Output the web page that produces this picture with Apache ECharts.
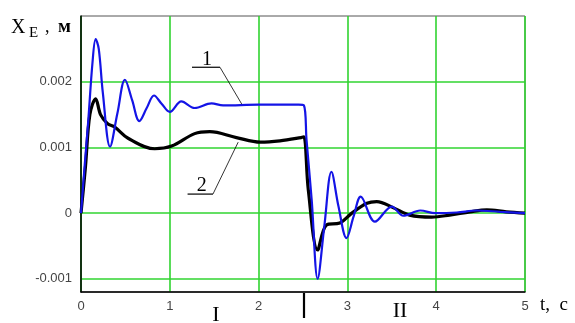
<!DOCTYPE html>
<html><head><meta charset="utf-8">
<script src="https://cdn.jsdelivr.net/npm/echarts@6/dist/echarts.min.js"></script>
<style>html,body{margin:0;padding:0;background:#fff}#c{width:575px;height:323px}</style>
</head><body><div id="c"></div>
<script>
// Curve 1 (blue): time, displacement
const t1 = [0, 0.04, 0.082, 0.13, 0.165, 0.2, 0.246, 0.327, 0.41, 0.495, 0.576, 0.657, 0.74, 0.822, 0.91, 1.0, 1.13, 1.28, 1.47, 1.6, 2.0, 2.45, 2.51, 2.54, 2.598, 2.665, 2.74, 2.82, 2.9, 2.99, 3.07, 3.15, 3.31, 3.5, 3.63, 3.82, 3.99, 4.23, 4.46, 4.72, 5.0];
const x1 = [0, 0.0007, 0.00141, 0.0023, 0.00265, 0.0025, 0.00183, 0.00101, 0.00152, 0.00203, 0.00172, 0.0014, 0.0016, 0.00179, 0.00166, 0.00154, 0.0017, 0.0016, 0.00167, 0.00164, 0.00165, 0.00165, 0.00164, 0.00111, 0.0002, -0.001, -0.0002, 0.00063, 0.0001, -0.00038, -0.00005, 0.00025, -0.00013, 0.0001, -0.00004, 0.00004, 0, 0.00001, 0.00004, 0.00002, 0];
// Curve 2 (black)
const t2 = [0, 0.05, 0.1, 0.165, 0.22, 0.3, 0.38, 0.53, 0.83, 1.02, 1.28, 1.45, 1.75, 2.02, 2.24, 2.48, 2.51, 2.56, 2.665, 2.765, 2.915, 3.05, 3.22, 3.33, 3.52, 3.7, 3.95, 4.15, 4.38, 4.57, 4.79, 5.0];
const x2 = [0, 0.0007, 0.0015, 0.00174, 0.0015, 0.00136, 0.00131, 0.00114, 0.00098, 0.00102, 0.00121, 0.00124, 0.00115, 0.00108, 0.0011, 0.00115, 0.00116, 0.00035, -0.00056, -0.00018, -0.00015, 0, 0.00015, 0.000176, 0.00008, -0.00003, -0.00006, -0.00003, 0.00002, 0.00005, 0.00002, 0];
const xTicks = [0, 1, 2, 3, 4, 5];
const yTicks = [-0.001, 0, 0.001, 0.002];
const yLabels = ['-0.001', '0', '0.001', '0.002'];

const chart = echarts.init(document.getElementById('c'), null, {renderer: 'canvas'});
const green = '#30d430';
const serif = '"Liberation Serif","DejaVu Serif",serif';
const sans = '"Liberation Sans",Arial,sans-serif';

chart.setOption({
  animation: false,
  backgroundColor: '#fff',
  grid: {left: 81, top: 16, right: 50, bottom: 31, show: true, borderColor: '#555', borderWidth: 1, backgroundColor: 'transparent'},
  xAxis: {
    type: 'value', min: 0, max: 5, interval: 1,
    axisLine: {show: true, onZero: false, lineStyle: {color: '#000', width: 1.5}},
    axisTick: {show: false},
    splitLine: {show: true, lineStyle: {color: green, width: 1.6}},
    axisLabel: {color: '#444', fontFamily: sans, fontSize: 13, margin: 8, formatter: v => xTicks.includes(v) ? String(v) : ''}
  },
  yAxis: {
    type: 'value', min: -0.0012, max: 0.003,
    axisLine: {show: true, onZero: false, lineStyle: {color: '#000', width: 1.5}},
    axisTick: {show: false, customValues: yTicks},
    splitLine: {show: true, lineStyle: {color: green, width: 1.6}},
    axisLabel: {color: '#444', fontFamily: sans, fontSize: 13, margin: 9, customValues: yTicks,
      formatter: v => { const i = yTicks.findIndex(y => Math.abs(y - v) < 1e-9); return i >= 0 ? yLabels[i] : ''; }}
  },
  series: [
    {type: 'line', name: '2', data: t2.map((t, i) => [t, x2[i]]), showSymbol: false, symbol: 'none', smooth: 0.35,
      lineStyle: {color: '#000', width: 3.2}, z: 3},
    {type: 'line', name: '1', data: t1.map((t, i) => [t, x1[i]]), showSymbol: false, symbol: 'none', smooth: 0.35,
      lineStyle: {color: '#1414e6', width: 2.2}, z: 4}
  ]
});

const P = (t, v) => chart.convertToPixel({gridIndex: 0}, [t, v]);
const line = (a, b, w) => ({type: 'line', shape: {x1: a[0], y1: a[1], x2: b[0], y2: b[1]}, style: {stroke: '#000', lineWidth: w || 1}, z: 10});
const txt = (x, y, s, size, extra) => Object.assign({type: 'text', x: x, y: y, style: Object.assign({text: s, fontSize: size, fontFamily: serif, fill: '#000'}, extra || {})}, {z: 10});

const a1 = P(1.42, 0.00234), u1a = P(1.25, 0.00222), u1b = P(1.565, 0.00222), l1 = P(1.81, 0.00166);
const a2 = P(1.36, 0.00042), u2a = P(1.2, 0.00029), u2b = P(1.486, 0.00029), l2 = P(1.77, 0.00108);
const sep = P(2.5, -0.0012);

chart.setOption({
  graphic: [
    txt(a1[0], a1[1], '1', 20, {align: 'center', verticalAlign: 'middle'}),
    line(u1a, u1b, 1.2), line(u1b, l1, 0.8),
    txt(a2[0], a2[1], '2', 20, {align: 'center', verticalAlign: 'middle'}),
    line(u2a, u2b, 1.2), line(u2b, l2, 0.8),
    line([sep[0] + 1, sep[1] + 1], [sep[0] + 1, sep[1] + 26], 2.2),
    txt(11, 18, 'X', 20),
    txt(29, 26, 'E', 15),
    txt(45, 18, ',', 18),
    txt(58, 18, 'м', 19, {fontWeight: 'bold'}),
    txt(540, 296, 't,  c', 19),
    txt(216, 304, 'I', 22, {align: 'center'}),
    txt(400, 300, 'II', 22, {align: 'center'})
  ]
});
</script></body></html>
